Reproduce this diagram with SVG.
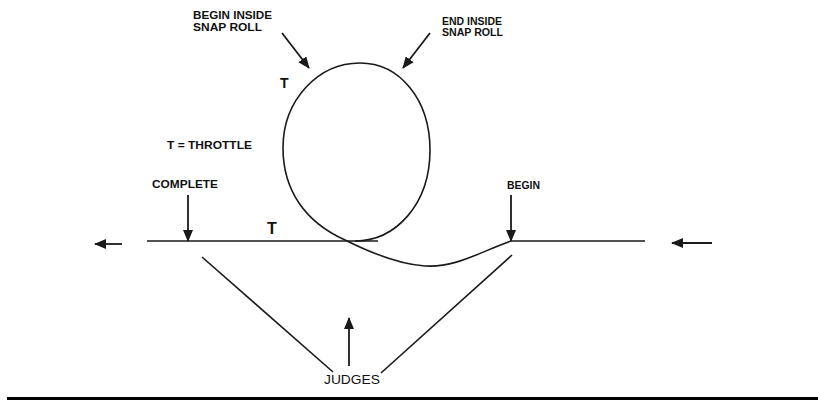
<svg xmlns="http://www.w3.org/2000/svg" width="818" height="400" viewBox="0 0 818 400">
<style>
.lbl{font-family:"Liberation Sans",Arial,sans-serif;font-weight:bold;font-size:10.5px;fill:#111}
.t{font-family:"Liberation Sans",Arial,sans-serif;font-weight:bold;fill:#111}
.ln{stroke:#1a1a1a;stroke-width:1.6;fill:none}
.arr{stroke:#1a1a1a;stroke-width:1.8;fill:none;marker-end:url(#ah)}
</style>
<defs>
<marker id="ah" markerUnits="userSpaceOnUse" markerWidth="12" markerHeight="10" refX="11" refY="5" orient="auto">
<path d="M0,0 L12,5 L0,10 Z" fill="#1a1a1a"/>
</marker>
</defs>
<rect width="818" height="400" fill="#fff"/>
<g id="labels">
<text class="lbl" x="193" y="19" textLength="79" lengthAdjust="spacingAndGlyphs">BEGIN INSIDE</text>
<text class="lbl" x="193" y="31" textLength="69" lengthAdjust="spacingAndGlyphs">SNAP ROLL</text>
<text class="lbl" x="442" y="25" textLength="60" lengthAdjust="spacingAndGlyphs">END INSIDE</text>
<text class="lbl" x="442" y="36" textLength="61" lengthAdjust="spacingAndGlyphs">SNAP ROLL</text>
<text class="lbl" x="167" y="149" textLength="85" lengthAdjust="spacingAndGlyphs">T = THROTTLE</text>
<text class="lbl" x="152" y="188" textLength="66" lengthAdjust="spacingAndGlyphs">COMPLETE</text>
<text class="lbl" x="507" y="189" textLength="33" lengthAdjust="spacingAndGlyphs">BEGIN</text>
<text class="t" x="280" y="88" font-size="14">T</text>
<text class="t" x="267" y="234" font-size="16">T</text>
<text x="324" y="384" font-family="Liberation Sans, Arial, sans-serif" font-size="13" fill="#111" textLength="56" lengthAdjust="spacingAndGlyphs">JUDGES</text>
</g>
<g id="flightpath">
<path class="ln" d="M147 241 L378 241"/>
<path class="ln" d="M645 241 L511 241 C480 252 455 268 425 266 C395 264 365 250 345 240 C305 222 283 190 283 148 C283 100 318 63 360 63 C400 63 430 100 430 150 C430 205 395 241 355 241" stroke-width="1.8"/>
</g>
<g id="connectors">
<path class="arr" d="M282 33 L309 68"/>
<path class="arr" d="M430 33 L403 68"/>
<path class="arr" d="M188 195 L188 241"/>
<path class="arr" d="M511 195 L511 241"/>
<path class="arr" d="M122 244 L95 244"/>
<path class="arr" d="M712 243 L672 243"/>
<path class="arr" d="M349 366 L349 318"/>
<path class="ln" d="M202 257 L333 372"/>
<path class="ln" d="M512 255 L381 373"/>
</g>
<rect x="7" y="397" width="811" height="3" fill="#000"/>
</svg>
